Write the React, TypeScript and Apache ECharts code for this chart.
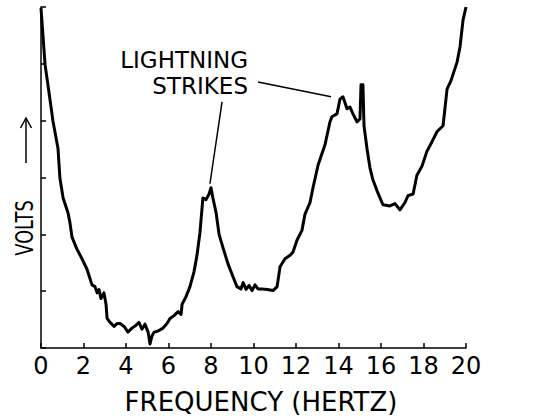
import React, { useEffect, useRef } from "react";
import * as echarts from "echarts";

const FONT = "DejaVu Sans";

// Frequency (Hz) of each traced point
const freq = [
  0, 0.19, 0.42, 0.56, 0.8, 0.89, 1.04, 1.27, 1.36, 1.46, 1.69, 1.93, 2.16, 2.4, 2.54, 2.64, 2.73, 2.82, 2.96, 3.06,
  3.11, 3.25, 3.44, 3.58, 3.72, 3.91, 4.09, 4.28, 4.47, 4.61, 4.75, 4.89, 5.04, 5.13, 5.22, 5.32, 5.51, 5.74, 5.93, 6.07,
  6.26, 6.45, 6.59, 6.64, 6.82, 7.01, 7.2, 7.34, 7.48, 7.58, 7.62, 7.76, 7.91, 8.0, 8.09, 8.24, 8.38, 8.56, 8.8, 9.04,
  9.22, 9.41, 9.51, 9.65, 9.79, 9.93, 10.07, 10.21, 10.4, 10.64, 10.92, 11.11, 11.25, 11.48, 11.72, 11.86, 12.05, 12.28, 12.42, 12.66,
  12.8, 13.04, 13.36, 13.6, 13.69, 13.93, 14.07, 14.21, 14.4, 14.54, 14.68, 14.87, 15.01, 15.06, 15.15, 15.2, 15.34, 15.48, 15.62, 15.81,
  16.09, 16.42, 16.66, 16.89, 17.13, 17.27, 17.51, 17.69, 17.93, 18.16, 18.4, 18.64, 18.92, 19.11, 19.29, 19.58, 19.72, 19.86, 20.0,
];

// Volts (relative units, 0..6) of each traced point
const volts = [
  5.98, 4.99, 4.38, 4.0, 3.51, 2.99, 2.64, 2.38, 2.21, 1.95, 1.74, 1.57, 1.39, 1.11, 1.08, 0.97, 1.03, 0.87, 0.97, 0.77,
  0.52, 0.45, 0.38, 0.43, 0.43, 0.38, 0.28, 0.35, 0.4, 0.45, 0.33, 0.42, 0.28, 0.07, 0.21, 0.28, 0.3, 0.35, 0.43, 0.52,
  0.57, 0.64, 0.59, 0.77, 0.9, 1.08, 1.34, 1.63, 2.03, 2.47, 2.64, 2.61, 2.71, 2.82, 2.64, 2.38, 2.0, 1.77, 1.48, 1.25,
  1.08, 1.04, 1.15, 1.03, 1.1, 1.01, 1.11, 1.04, 1.04, 1.03, 1.01, 1.08, 1.43, 1.57, 1.63, 1.69, 1.9, 2.07, 2.35, 2.56,
  2.82, 3.22, 3.57, 3.98, 4.07, 4.12, 4.38, 4.42, 4.21, 4.24, 4.12, 3.98, 4.03, 4.63, 4.63, 3.91, 3.51, 3.17, 2.96, 2.77,
  2.52, 2.5, 2.54, 2.43, 2.56, 2.68, 2.71, 3.04, 3.2, 3.46, 3.63, 3.81, 3.91, 4.56, 4.7, 5.03, 5.3, 5.77, 6.0,
];

const xTicks = [0, 2, 4, 6, 8, 10, 12, 14, 16, 18, 20];
const annotationLines = [
  [[10.21, 4.68], [13.65, 4.42]],
  [[8.52, 4.33], [7.95, 2.89]],
];
const annotationText = ["LIGHTNING", "STRIKES"];

export default function App() {
  const ref = useRef<HTMLDivElement>(null);
  useEffect(() => {
    if (!ref.current) return;
    const chart = echarts.init(ref.current, null, { renderer: "svg" });
    const data = freq.map((f, i) => [f, volts[i]]);
    chart.setOption({
      animation: false,
      backgroundColor: "#ffffff",
      textStyle: { fontFamily: FONT },
      grid: { left: 41, right: 94, top: 7, bottom: 68 },
      xAxis: {
        type: "value",
        min: 0,
        max: 20,
        interval: 2,
        name: "FREQUENCY (HERTZ)",
        nameLocation: "middle",
        nameGap: 41,
        nameTextStyle: { fontSize: 26, color: "#000", fontFamily: FONT, padding: [0, 0, 0, 15] },
        axisLine: { show: true, lineStyle: { color: "#000", width: 1.5 } },
        axisTick: { show: true, inside: true, length: 5, lineStyle: { color: "#000", width: 1.5 } },
        axisLabel: {
          fontSize: 24,
          color: "#000",
          fontFamily: FONT,
          margin: 6,
          formatter: (v: number) => (xTicks.includes(v) ? String(v) : ""),
        },
        splitLine: { show: false },
      },
      yAxis: {
        type: "value",
        min: 0,
        max: 6,
        interval: 1,
        axisLine: { show: true, lineStyle: { color: "#000", width: 1.5 } },
        axisTick: { show: true, inside: true, length: 5, lineStyle: { color: "#000", width: 1.5 } },
        axisLabel: { show: false },
        splitLine: { show: false },
      },
      series: [
        {
          type: "line",
          data,
          showSymbol: false,
          symbol: "none",
          lineStyle: { color: "#000", width: 3, join: "round" },
          markLine: {
            silent: true,
            symbol: ["none", "none"],
            label: { show: false },
            lineStyle: { color: "#000", width: 1.5, type: "solid" },
            data: annotationLines.map(([a, b]) => [{ coord: a }, { coord: b }]),
          },
        },
      ],
      graphic: [
        {
          type: "text",
          x: 248,
          y: 60,
          style: {
            text: annotationText[0],
            align: "right",
            verticalAlign: "middle",
            fontSize: 23,
            fontFamily: FONT,
            fill: "#000",
          },
        },
        {
          type: "text",
          x: 248,
          y: 86,
          style: {
            text: annotationText[1],
            align: "right",
            verticalAlign: "middle",
            fontSize: 23,
            fontFamily: FONT,
            fill: "#000",
          },
        },
        {
          type: "text",
          x: 24,
          y: 228,
          rotation: Math.PI / 2,
          scaleX: 0.74,
          style: {
            text: "VOLTS",
            align: "center",
            verticalAlign: "middle",
            fontSize: 24,
            fontFamily: FONT,
            fill: "#000",
          },
        },
        {
          type: "line",
          shape: { x1: 26, y1: 163, x2: 26, y2: 119 },
          style: { stroke: "#000", lineWidth: 1.5 },
        },
        {
          type: "polyline",
          shape: { points: [[20.5, 128], [26, 118], [31.5, 128]] },
          style: { stroke: "#000", lineWidth: 1.5, fill: "none" },
        },
      ],
    });
    return () => chart.dispose();
  }, []);
  return (
    <div
      ref={ref}
      style={{ position: "fixed", left: 0, top: 0, width: 560, height: 420, background: "#fff" }}
    />
  );
}
